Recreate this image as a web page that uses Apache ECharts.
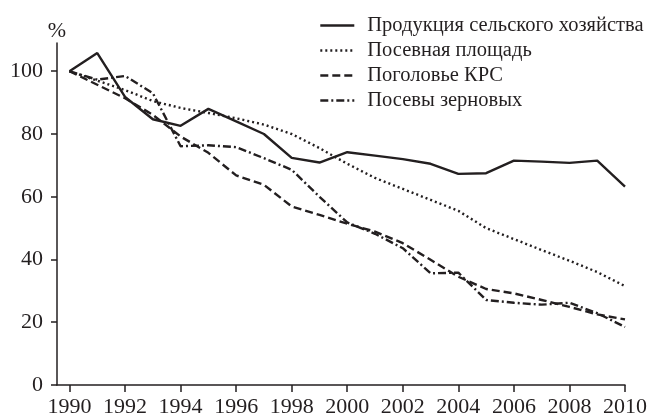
<!DOCTYPE html>
<html>
<head>
<meta charset="utf-8">
<script src="https://cdn.jsdelivr.net/npm/echarts@6/dist/echarts.min.js"></script>
<style>
  html, body { margin: 0; padding: 0; background: #fff; }
  #chart { width: 655px; height: 419px; }
</style>
</head>
<body>
<div id="chart"></div>
<script>
// годы и значения (1990 = 100 %)
const years = [1990, 1991, 1992, 1993, 1994, 1995, 1996, 1997, 1998, 1999, 2000,
  2001, 2002, 2003, 2004, 2005, 2006, 2007, 2008, 2009, 2010];
const yearTicks = [1990, 1992, 1994, 1996, 1998, 2000, 2002, 2004, 2006, 2008, 2010];
const percentTicks = [0, 20, 40, 60, 80, 100];

const production = [100, 105.8, 91.8, 84.7, 82.6, 88, 84, 80, 72.4, 70.9, 74.2,
  73.1, 72, 70.5, 67.3, 67.5, 71.5, 71.2, 70.8, 71.5, 63.2];
const sownArea = [100, 97, 94, 90.5, 88.3, 86.7, 85, 83, 80, 75.5, 70.5,
  66, 62.5, 59, 55.5, 50, 46.5, 43, 39.6, 36, 31.5];
const cattle = [100, 95.7, 91.4, 86.1, 79.2, 74, 66.8, 63.8, 56.9, 54.2, 51.4,
  48.9, 45.2, 39.9, 34.5, 30.6, 29.2, 27.1, 24.9, 22.5, 20.9];
const grain = [100, 97.3, 98.5, 93, 76.1, 76.4, 75.8, 72.3, 68.6, 60, 51.8,
  48.2, 43.6, 35.6, 35.8, 27.1, 26.2, 25.6, 26.2, 22.9, 18.5];

const names = ["Продукция сельского хозяйства", "Посевная площадь", "Поголовье КРС", "Посевы зерновых"];
const dashes = ["solid", [2, 3], [8, 4], [8, 3, 2, 3]];
const values = [production, sownArea, cattle, grain];

const ink = "#231f20";
const font = "'Liberation Serif', serif";

const chart = echarts.init(document.getElementById("chart"));

const series = names.map((name, i) => ({
  name: name,
  type: "line",
  data: years.map((y, k) => [y, values[i][k]]),
  symbol: "none",
  lineStyle: { color: ink, width: 2.4, type: dashes[i] },
  itemStyle: { color: ink },
  z: 10 - i,
}));

chart.setOption({
  animation: false,
  backgroundColor: "#fff",
  textStyle: { fontFamily: font, color: ink },
  grid: { left: 57, right: 30, top: 43, bottom: 34 },
  legend: {
    orient: "vertical",
    left: 319,
    top: 15,
    padding: 0,
    itemWidth: 34,
    itemHeight: 14,
    itemGap: 4,
    itemStyle: { opacity: 0 },
    lineStyle: { width: 2.6 },
    textStyle: { fontFamily: font, fontSize: 20.5, color: ink, padding: [0, 0, 0, 8] },
    data: names,
  },
  xAxis: {
    type: "value",
    min: 1989.55,
    max: 2010,
    axisLine: { lineStyle: { color: ink, width: 1.5 } },
    axisTick: { length: 7, lineStyle: { color: ink, width: 1.5 }, customValues: yearTicks },
    axisLabel: { fontFamily: font, fontSize: 22, color: ink, margin: 11, customValues: yearTicks, formatter: (v) => String(v) },
    splitLine: { show: false },
  },
  yAxis: {
    type: "value",
    min: 0,
    max: 109,
    name: "%",
    nameLocation: "end",
    nameGap: 1,
    nameTextStyle: { fontFamily: font, fontSize: 22, color: ink, align: "center" },
    axisLine: { show: true, lineStyle: { color: ink, width: 1.5 } },
    axisTick: { show: true, length: 6, lineStyle: { color: ink, width: 1.5 }, customValues: percentTicks },
    axisLabel: { fontFamily: font, fontSize: 22, color: ink, margin: 14, customValues: percentTicks },
    splitLine: { show: false },
  },
  series: series,
});
</script>
</body>
</html>
